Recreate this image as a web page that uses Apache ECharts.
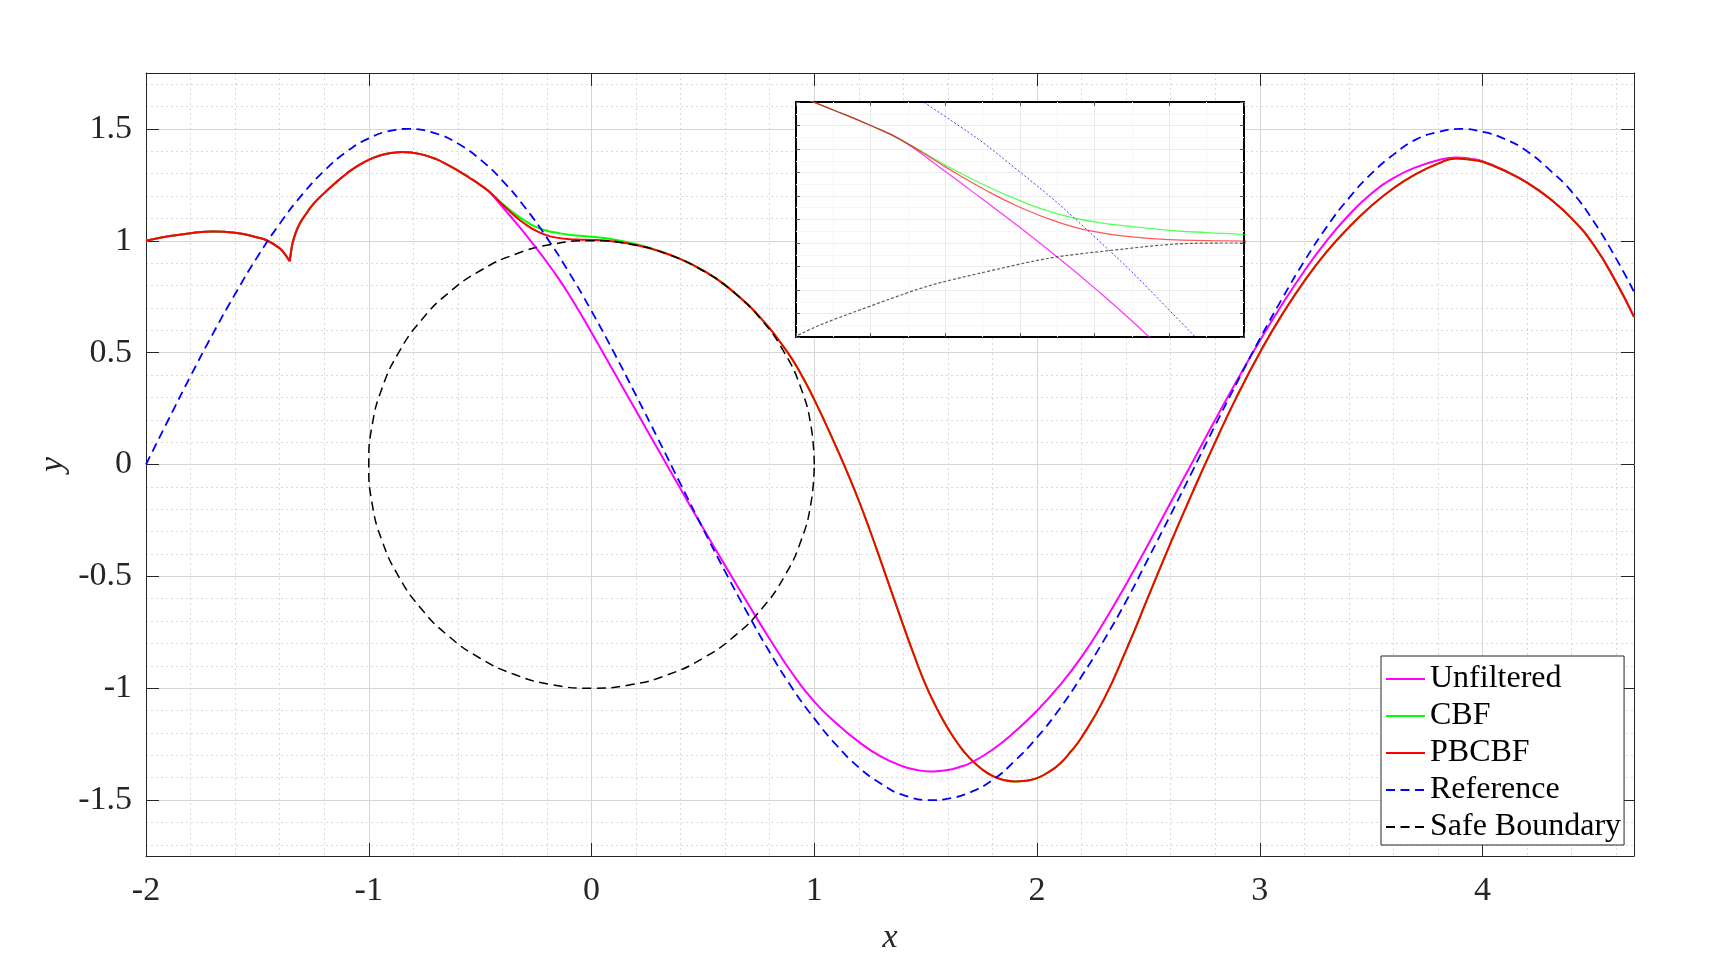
<!DOCTYPE html>
<html>
<head>
<meta charset="utf-8">
<title>Trajectory comparison</title>
<script src="https://cdn.jsdelivr.net/npm/echarts@6.0.0/dist/echarts.min.js"></script>
<style>
  html, body { margin: 0; padding: 0; background: #fff; }
  #chart { width: 1712px; height: 963px; }
</style>
</head>
<body>
<div id="chart"></div>
<script>
// shared start of the three trajectories, split at the cusp so it stays sharp
const startBeforeCusp = [
  [-2.0, 1.0], [-1.9, 1.02], [-1.8, 1.034], [-1.7, 1.042], [-1.6, 1.036], [-1.5, 1.015],
  [-1.45, 0.998], [-1.4, 0.966], [-1.38, 0.945], [-1.355, 0.909]
];
const startAfterCusp = [
  [-1.355, 0.909], [-1.35, 0.942], [-1.343, 0.985], [-1.33, 1.03], [-1.31, 1.076], [-1.28, 1.122],
  [-1.25, 1.163], [-1.2, 1.213], [-1.15, 1.258], [-1.1, 1.3], [-1.05, 1.335], [-1.0, 1.362],
  [-0.95, 1.381], [-0.9, 1.392], [-0.85, 1.397], [-0.8, 1.393], [-0.75, 1.383], [-0.7, 1.366],
  [-0.65, 1.342], [-0.6, 1.314], [-0.55, 1.283], [-0.5, 1.25], [-0.46, 1.22]
];

const unfilteredTail = [
  [-0.4, 1.152], [-0.35, 1.093], [-0.3, 1.033], [-0.25, 0.97], [-0.2, 0.904], [-0.15, 0.834],
  [-0.1, 0.758], [-0.05, 0.676], [0, 0.59], [0.1, 0.415], [0.2, 0.24], [0.3, 0.065], [0.4, -0.11],
  [0.5, -0.283], [0.6, -0.452], [0.7, -0.618], [0.8, -0.78], [0.9, -0.932], [1.0, -1.06],
  [1.1, -1.158], [1.2, -1.24], [1.3, -1.306], [1.4, -1.35], [1.45, -1.363], [1.52, -1.372],
  [1.55, -1.371], [1.6, -1.366], [1.65, -1.353], [1.7, -1.335], [1.8, -1.275], [1.9, -1.195],
  [2.0, -1.1], [2.1, -0.99], [2.2, -0.86], [2.3, -0.705], [2.4, -0.535], [2.5, -0.355],
  [2.6, -0.17], [2.7, 0.015], [2.8, 0.2], [2.9, 0.38], [3.0, 0.553], [3.1, 0.715], [3.2, 0.865],
  [3.3, 1.0], [3.4, 1.115], [3.5, 1.21], [3.6, 1.28], [3.7, 1.328], [3.8, 1.36], [3.88, 1.372],
  [3.95, 1.366], [4.0, 1.356], [4.1, 1.313], [4.2, 1.26], [4.3, 1.19], [4.4, 1.1], [4.5, 0.98],
  [4.6, 0.815], [4.68, 0.66]
];

const cbfMid = [
  [-0.4, 1.166], [-0.35, 1.125], [-0.3, 1.09], [-0.25, 1.062], [-0.2, 1.045], [-0.15, 1.035],
  [-0.1, 1.027], [-0.05, 1.022], [0, 1.018], [0.1, 1.006], [0.2, 0.985], [0.3, 0.956]
];

const pbcbfMid = [
  [-0.4, 1.162], [-0.35, 1.116], [-0.3, 1.076], [-0.25, 1.045], [-0.2, 1.024], [-0.15, 1.013],
  [-0.1, 1.007], [-0.05, 1.005], [0, 1.004], [0.1, 0.997], [0.2, 0.981], [0.3, 0.955]
];

// CBF and PBCBF coincide from here on
const filteredLate = [
  [0.4, 0.918], [0.5, 0.868], [0.6, 0.802], [0.7, 0.716], [0.75, 0.665], [0.8, 0.608],
  [0.85, 0.543], [0.9, 0.472], [0.95, 0.387], [1.0, 0.29], [1.05, 0.185], [1.1, 0.075],
  [1.15, -0.04], [1.2, -0.162], [1.25, -0.295], [1.3, -0.435], [1.35, -0.578], [1.4, -0.72],
  [1.45, -0.858], [1.5, -0.985], [1.55, -1.09], [1.6, -1.18], [1.65, -1.255], [1.7, -1.315],
  [1.75, -1.36], [1.8, -1.392], [1.85, -1.41], [1.9, -1.417], [1.95, -1.414], [2.0, -1.402],
  [2.05, -1.376], [2.1, -1.34], [2.15, -1.285], [2.2, -1.22], [2.3, -1.05], [2.4, -0.83],
  [2.5, -0.59], [2.6, -0.35], [2.7, -0.12], [2.8, 0.1], [2.9, 0.31], [3.0, 0.5], [3.1, 0.67],
  [3.2, 0.82], [3.3, 0.95], [3.4, 1.06], [3.5, 1.155], [3.6, 1.235], [3.7, 1.298], [3.8, 1.345],
  [3.88, 1.368], [3.95, 1.362], [4.0, 1.353], [4.1, 1.313], [4.2, 1.26], [4.3, 1.19], [4.4, 1.1],
  [4.5, 0.98], [4.6, 0.815], [4.68, 0.66]
];

const referencePts = [
  [-2.0, 0], [-1.9, 0.199], [-1.8, 0.395], [-1.7, 0.584], [-1.6, 0.762], [-1.5, 0.928],
  [-1.4, 1.076], [-1.3, 1.205], [-1.2, 1.313], [-1.1, 1.398], [-1.0, 1.458], [-0.9, 1.492],
  [-0.82, 1.5], [-0.7, 1.48], [-0.6, 1.435], [-0.5, 1.364], [-0.4, 1.269], [-0.3, 1.151],
  [-0.2, 1.013], [-0.1, 0.857], [0, 0.686], [0.1, 0.502], [0.2, 0.309], [0.3, 0.112],
  [0.4, -0.088], [0.5, -0.286], [0.6, -0.479], [0.7, -0.664], [0.8, -0.839], [0.9, -0.998],
  [1.0, -1.135], [1.1, -1.255], [1.2, -1.354], [1.3, -1.427], [1.4, -1.478], [1.535, -1.5],
  [1.6, -1.494], [1.7, -1.465], [1.8, -1.411], [1.9, -1.325], [2.0, -1.22], [2.1, -1.094],
  [2.2, -0.947], [2.3, -0.786], [2.4, -0.611], [2.5, -0.419], [2.6, -0.224], [2.7, -0.025],
  [2.8, 0.175], [2.9, 0.371], [3.0, 0.561], [3.1, 0.741], [3.2, 0.909], [3.3, 1.061],
  [3.4, 1.191], [3.5, 1.299], [3.6, 1.385], [3.7, 1.452], [3.8, 1.486], [3.9, 1.5],
  [4.0, 1.487], [4.1, 1.455], [4.2, 1.4], [4.3, 1.318], [4.4, 1.22], [4.5, 1.085], [4.6, 0.92],
  [4.68, 0.772]
];

// unit circle, every 10 degrees
const safeBoundaryPts = [
  [1, 0], [0.985, 0.174], [0.94, 0.342], [0.866, 0.5], [0.766, 0.643], [0.643, 0.766],
  [0.5, 0.866], [0.342, 0.94], [0.174, 0.985], [0, 1], [-0.174, 0.985], [-0.342, 0.94],
  [-0.5, 0.866], [-0.643, 0.766], [-0.766, 0.643], [-0.866, 0.5], [-0.94, 0.342], [-0.985, 0.174],
  [-1, 0], [-0.985, -0.174], [-0.94, -0.342], [-0.866, -0.5], [-0.766, -0.643], [-0.643, -0.766],
  [-0.5, -0.866], [-0.342, -0.94], [-0.174, -0.985], [0, -1], [0.174, -0.985], [0.342, -0.94],
  [0.5, -0.866], [0.643, -0.766], [0.766, -0.643], [0.866, -0.5], [0.94, -0.342], [0.985, -0.174],
  [1, 0]
];

const legendNames = ['Unfiltered', 'CBF', 'PBCBF', 'Reference', 'Safe Boundary'];

const GAP = [['-', '-']];
const unfiltered = startBeforeCusp.concat(GAP, startAfterCusp, unfilteredTail);
const cbf = startBeforeCusp.concat(GAP, startAfterCusp, cbfMid, filteredLate);
const pbcbf = startBeforeCusp.concat(GAP, startAfterCusp, pbcbfMid, filteredLate);

const FONT = '"Liberation Serif", "Times New Roman", serif';
const AXIS_COLOR = '#262626';

const chart = echarts.init(document.getElementById('chart'));

const boxAxis = (extra) => Object.assign({
  type: 'value',
  gridIndex: 0,
  z: 1,
  axisLine: { show: true, onZero: false, lineStyle: { color: AXIS_COLOR, width: 1 } },
  axisTick: { show: true, inside: true, length: 13, lineStyle: { color: AXIS_COLOR, width: 1 } },
  axisLabel: { show: false },
  splitLine: { show: false }
}, extra);

const minorAxis = (extra) => Object.assign({
  type: 'value',
  gridIndex: 0,
  z: 0,
  axisLine: { show: false, onZero: false },
  axisTick: { show: false },
  axisLabel: { show: false },
  splitLine: {
    show: true, showMinLine: false, showMaxLine: false,
    lineStyle: { color: '#d9d9d9', width: 1, type: [2, 3] }
  }
}, extra);

const insetAxis = (extra) => Object.assign({
  type: 'value',
  gridIndex: 1,
  z: 11,
  axisLine: { show: false, onZero: false },
  axisTick: { show: true, inside: true, length: 4, lineStyle: { color: '#555', width: 1 } },
  axisLabel: { show: false },
  splitLine: { show: false }
}, extra);

const insetSplit = {
  show: true, showMinLine: false, showMaxLine: false,
  lineStyle: { color: '#ebebeb', width: 1 }
};
const insetMinor = { show: true, lineStyle: { color: '#f6f6f6', width: 1 } };

const labelStyle = { fontSize: 34, fontFamily: FONT, color: AXIS_COLOR };
const nameStyle = { fontSize: 34, fontFamily: FONT, fontStyle: 'italic', color: AXIS_COLOR };

function line(name, data, color, width, dash, axis, z, opacity) {
  return {
    name: name,
    type: 'line',
    data: data,
    xAxisIndex: axis,
    yAxisIndex: axis,
    showSymbol: false,
    symbol: 'none',
    smooth: 0.5,
    clip: true,
    silent: true,
    z: z,
    lineStyle: { color: color, width: width, type: dash, opacity: opacity == null ? 1 : opacity },
    itemStyle: { color: color }
  };
}

const option = {
  animation: false,
  backgroundColor: '#fff',
  grid: [
    { left: 146, top: 73, right: 78, bottom: 107, containLabel: false },
    {
      left: 796, top: 102, width: 448, height: 235, show: true,
      backgroundColor: '#fff', borderColor: '#000', borderWidth: 2, z: 10
    }
  ],
  xAxis: [
    boxAxis({
      position: 'bottom', min: -2, max: 4.68, interval: 1,
      axisLabel: Object.assign({ show: true, margin: 18, showMaxLabel: false }, labelStyle),
      splitLine: {
        show: true, showMinLine: false, showMaxLine: false,
        lineStyle: { color: '#d6d6d6', width: 1 }
      },
      name: 'x', nameLocation: 'middle', nameGap: 65, nameTextStyle: nameStyle
    }),
    boxAxis({ position: 'top', min: -2, max: 4.68, interval: 1 }),
    minorAxis({ position: 'bottom', min: -2, max: 4.68, interval: 0.2 }),
    insetAxis({
      position: 'bottom', min: -0.6, max: 0, interval: 0.1,
      splitLine: insetSplit, minorTick: { show: false, splitNumber: 2 }, minorSplitLine: insetMinor
    }),
    insetAxis({ position: 'top', min: -0.6, max: 0, interval: 0.1 })
  ],
  yAxis: [
    boxAxis({
      position: 'left', min: -1.75, max: 1.75, splitNumber: 7,
      axisLabel: Object.assign({ show: true, margin: 14, showMinLabel: false, showMaxLabel: false }, labelStyle),
      splitLine: {
        show: true, showMinLine: false, showMaxLine: false,
        lineStyle: { color: '#d6d6d6', width: 1 }
      },
      name: 'y', nameLocation: 'middle', nameGap: 76, nameMoveOverlap: false, nameTextStyle: nameStyle
    }),
    boxAxis({ position: 'right', min: -1.75, max: 1.75, splitNumber: 7 }),
    minorAxis({ position: 'left', min: -1.75, max: 1.75, splitNumber: 35 }),
    insetAxis({
      position: 'left', min: 0.8, max: 1.3, interval: 0.05,
      splitLine: insetSplit, minorTick: { show: false, splitNumber: 2 }, minorSplitLine: insetMinor
    }),
    insetAxis({ position: 'right', min: 0.8, max: 1.3, interval: 0.05 })
  ],
  legend: {
    data: legendNames,
    orient: 'vertical',
    left: 1381,
    top: 656,
    itemWidth: 39,
    itemHeight: 14,
    itemGap: 5,
    padding: [7, 3, 2, 4],
    borderColor: AXIS_COLOR,
    borderWidth: 1,
    backgroundColor: '#fff',
    selectedMode: false,
    z: 5,
    itemStyle: { opacity: 0 },
    textStyle: { fontSize: 32, lineHeight: 32, fontFamily: FONT, color: '#000' }
  },
  series: [
    line('Unfiltered', unfiltered, '#ff00ff', 2, 'solid', 0, 2),
    line('CBF', cbf, '#00ff00', 2, 'solid', 0, 2),
    line('PBCBF', pbcbf, '#ff0000', 2, 'solid', 0, 2),
    line('Reference', referencePts, '#0000ff', 1.8, [9, 5.5], 0, 2),
    line('Safe Boundary', safeBoundaryPts, '#000000', 1.5, [9, 5.5], 0, 2),

    line('inset Unfiltered', unfiltered, '#ff00ff', 1.2, 'solid', 3, 12, 0.8),
    line('inset CBF', cbf, '#00ff00', 1.3, 'solid', 3, 12, 0.65),
    line('inset PBCBF', pbcbf, '#ff0000', 1.3, 'solid', 3, 12, 0.65),
    line('inset Reference', referencePts, '#0000ff', 1, [2, 2], 3, 12, 0.75),
    line('inset Safe Boundary', safeBoundaryPts, '#333333', 1.2, [3, 2], 3, 12, 0.8)
  ]
};

chart.setOption(option);
</script>
</body>
</html>
